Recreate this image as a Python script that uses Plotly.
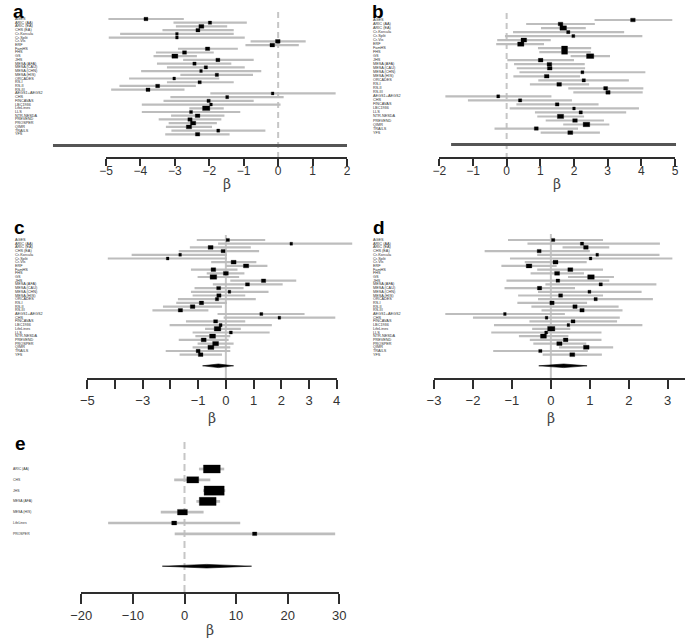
import plotly.graph_objects as go

W, H = 685, 639

# ---------------- data ----------------
studies_a = ["AGES", "ARIC (AA)", "ARIC (EA)", "CHS (EA)", "Cr-Korcula", "Cr-Split", "Cr-Vis", "ERF",
             "FamHS", "FHS", "GS", "JHS", "MESA (AFA)", "MESA (CAU)", "MESA (CHN)", "MESA (HIS)",
             "ORCADES", "RS-I", "RS-II", "RS-III", "AEGS1+AEGS2", "CHS", "FINCAVAS", "LBC1936",
             "LifeLines", "LLS", "NTR-NESDA", "PREVEND", "PROSPER", "QIMR", "TRAILS", "YFS"]
est_a = [-3.84, -1.98, -2.23, -2.33, -2.94, -2.94, -0.01, -0.17, -2.05, -2.72, -3.00, -1.75, -2.43, -2.10,
         -2.24, -1.78, -3.02, -2.28, -3.50, -3.78, -0.16, -1.48, -2.02, -1.95, -2.09, -2.53, -2.34, -2.56,
         -2.47, -2.59, -1.74, -2.34]
lo_a = [-4.93, -3.04, -2.97, -3.36, -4.59, -4.92, -0.80, -0.95, -2.91, -3.55, -3.62, -2.76, -3.52, -3.23,
        -3.98, -2.84, -4.33, -3.23, -4.61, -4.85, -1.97, -3.13, -3.33, -3.96, -2.58, -3.96, -3.11, -3.47,
        -3.18, -3.26, -3.10, -3.28]
hi_a = [-2.74, -0.91, -1.48, -1.29, -1.29, -0.97, 0.80, 0.60, -1.17, -1.87, -2.36, -0.71, -1.36, -0.97,
        -0.49, -0.73, -1.71, -1.29, -2.39, -2.72, 1.67, 0.16, -0.71, 0.07, -1.58, -1.10, -1.56, -1.65,
        -1.78, -1.92, -0.37, -1.41]
wt_a = [1.2, 1.0, 1.5, 1.2, 0.8, 0.8, 1.4, 1.4, 1.3, 1.2, 1.8, 1.2, 1.0, 1.0, 0.8, 1.0, 0.8, 1.0, 1.2, 1.2,
        0.8, 0.9, 1.0, 0.8, 2.2, 0.9, 1.4, 1.3, 1.6, 1.6, 0.9, 1.3]
pooled_a = [-6.54, 2.0]

studies_b = ["AGES", "ARIC (AA)", "ARIC (EA)", "Cr-Korcula", "Cr-Split", "Cr-Vis", "ERF", "FamHS", "FHS",
             "GS", "JHS", "MESA (AFA)", "MESA (CAU)", "MESA (CHN)", "MESA (HIS)", "ORCADES", "RS-I",
             "RS-II", "RS-III", "AEGS1+AEGS2", "CHS", "FINCAVAS", "LBC1936", "LLS", "NTR-NESDA",
             "PREVEND", "QIMR", "TRAILS", "YFS"]
est_b = [3.75, 1.60, 1.68, 1.83, 1.98, 0.51, 0.42, 1.72, 1.72, 2.48, 1.01, 1.27, 1.28, 2.25, 1.19, 2.29,
         1.56, 2.94, 3.01, -0.25, 0.40, 1.50, 2.00, 2.20, 1.60, 2.03, 2.37, 0.88, 1.89]
lo_b = [2.61, 0.58, 1.02, 0.19, -0.05, -0.28, -0.31, 0.93, 0.97, 1.90, 0.02, 0.22, 0.30, 0.38, 0.20, 0.94,
        0.69, 1.83, 1.98, -1.82, -1.15, 0.29, 0.09, 0.84, 0.91, 1.16, 1.68, -0.36, 1.01]
hi_b = [4.92, 2.62, 2.35, 3.49, 4.03, 1.31, 1.11, 2.51, 2.50, 3.07, 2.00, 2.32, 2.33, 4.12, 2.18, 3.63,
        2.45, 4.06, 4.04, 1.33, 1.94, 2.73, 3.93, 3.55, 2.30, 2.89, 3.05, 2.12, 2.77]
wt_b = [1.4, 1.4, 2.0, 1.0, 0.9, 1.7, 1.9, 1.8, 1.8, 2.2, 1.4, 1.4, 1.4, 0.9, 1.4, 1.0, 1.4, 1.2, 1.3, 0.9,
        1.0, 1.1, 0.8, 1.0, 1.9, 1.4, 2.0, 1.2, 1.5]
pooled_b = [-1.65, 5.03]

studies_c = studies_a
est_c = [0.07, 2.36, -0.55, -0.10, -1.65, -2.10, 0.28, 0.73, -0.45, 0.00, -0.45, 1.36, 0.78, -0.26, 0.13,
         -0.25, -0.32, -0.88, -1.20, -1.64, 1.28, 1.93, -0.37, -0.19, -0.30, 0.18, -0.48, -0.80, -0.37,
         -0.54, -1.00, -0.91]
lo_c = [-1.05, -0.28, -1.30, -1.70, -3.40, -4.26, -0.53, -0.01, -1.26, -0.69, -1.02, 0.16, -0.47, -1.13,
        -1.26, -1.20, -1.73, -1.79, -2.27, -2.65, -0.30, -0.08, -1.44, -2.03, -0.75, -1.20, -1.10, -1.70,
        -1.02, -1.20, -2.17, -1.67]
hi_c = [1.42, 4.56, 0.90, 1.20, 0.04, 0.04, 1.10, 1.50, 0.42, 0.67, 0.48, 2.54, 2.05, 0.64, 1.54, 0.70,
        1.08, 0.04, -0.14, -0.63, 2.84, 3.95, 0.70, 1.66, 0.54, 1.58, 0.16, 0.10, 0.28, 0.16, 0.16, -0.14]
wt_c = [1.0, 0.8, 1.5, 1.2, 0.8, 0.8, 1.5, 1.6, 1.4, 1.5, 2.0, 1.3, 1.2, 1.2, 0.8, 1.3, 1.0, 1.3, 1.4, 1.3,
        0.9, 0.8, 1.2, 0.9, 2.0, 0.9, 1.8, 1.5, 1.8, 1.8, 1.2, 1.4]
pooled_c = [-0.84, -0.27, 0.28]

studies_d = studies_a
est_d = [0.06, 0.80, 0.90, -0.30, 1.19, 1.02, 0.12, -0.56, 0.50, 0.16, 1.03, 0.18, 1.28, -0.29, 0.99, 0.25,
         1.15, 0.03, 0.62, 0.80, -1.18, -0.11, 0.57, 0.45, 0.01, -0.12, -0.19, 0.38, 0.22, 0.91, -0.27, 0.55]
lo_d = [-1.10, -0.60, 0.30, -1.70, -0.35, -1.05, -0.67, -1.27, -0.35, -0.52, 0.44, -1.14, -0.14, -1.19,
        -0.33, -0.84, -0.33, -0.86, -0.50, -0.24, -2.71, -2.00, -0.55, -1.46, -0.48, -1.53, -0.82, -0.54,
        -0.45, 0.21, -1.48, -0.21]
hi_d = [1.34, 2.80, 1.50, 1.00, 2.79, 3.12, 0.92, 0.15, 1.34, 0.85, 1.62, 1.50, 2.71, 0.62, 2.33, 1.34,
        2.62, 0.93, 1.74, 1.84, 0.36, 1.77, 1.70, 2.35, 0.50, 1.30, 0.45, 1.30, 0.91, 1.60, 0.95, 1.31]
wt_d = [1.0, 1.0, 1.4, 1.2, 0.8, 0.8, 1.5, 1.7, 1.5, 1.5, 2.0, 1.1, 1.0, 1.3, 0.9, 1.2, 1.0, 1.3, 1.3, 1.3,
        0.8, 0.8, 1.2, 0.8, 2.2, 0.9, 1.8, 1.4, 1.6, 1.7, 1.0, 1.5]
pooled_d = [-0.31, 0.33, 0.93]

studies_e = ["ARIC (AA)", "CHS", "JHS", "MESA (AFA)", "MESA (HIS)", "LifeLines", "PROSPER"]
est_e = [5.3, 1.6, 5.75, 4.5, -0.4, -2.0, 13.6]
lo_e = [2.8, -2.0, 3.6, 2.3, -4.6, -14.8, -1.9]
hi_e = [7.7, 5.0, 7.9, 6.9, 3.7, 10.8, 29.2]
wt_e = [5.1, 3.6, 6.1, 5.1, 3.0, 1.5, 1.3]
pooled_e = [-4.3, 4.3, 13.0]

ticks_a = [-5, -4, -3, -2, -1, 0, 1, 2]
ticks_b = [-2, -1, 0, 1, 2, 3, 4, 5]
ticks_c = [-5, -4, -3, -2, -1, 0, 1, 2, 3, 4]
labels_c = ["\u22125", "", "\u22123", "", "\u22121", "0", "1", "2", "3", "4"]
ticks_d = [-3, -2, -1, 0, 1, 2, 3]
ticks_e = [-20, -10, 0, 10, 20, 30]

# ---------------- layout geometry (pixels) ----------------
panels = [
    dict(letter="a", names=studies_a, est=est_a, lo=lo_a, hi=hi_a, wt=wt_a, pooled=pooled_a,
         ticks=ticks_a, ticktext=None, axis_px=(106, 347), axis_rng=(-5, 2), data_px=(40, 352),
         r1=19, sp=3.72, dom=(0, 163), axis_y=158.3, zero_top=12, dash="6px,4px", ticklen=7,
         tickfont=12, standoff=-6, beta_y=183.5, label_x=14, lab_size=3.8, letter_xy=(12, 0)),
    dict(letter="b", names=studies_b, est=est_b, lo=lo_b, hi=hi_b, wt=wt_b, pooled=pooled_b,
         ticks=ticks_b, ticktext=None, axis_px=(439.3, 675), axis_rng=(-2, 5), data_px=(430, 685),
         r1=20, sp=4.02, dom=(0, 163), axis_y=158.3, zero_top=13, dash="6px,4px", ticklen=7,
         tickfont=12, standoff=-6, beta_y=183.5, label_x=372, lab_size=3.8, letter_xy=(371, 0)),
    dict(letter="c", names=studies_c, est=est_c, lo=lo_c, hi=hi_c, wt=wt_c, pooled=pooled_c,
         ticks=ticks_c, ticktext=labels_c, axis_px=(87.3, 336.7), axis_rng=(-5, 4), data_px=(55, 360),
         r1=240, sp=3.70, dom=(226, 384), axis_y=379.3, zero_top=235, dash="solid", ticklen=9,
         tickfont=13, standoff=0, beta_y=418, label_x=14, lab_size=3.8, letter_xy=(13, 216)),
    dict(letter="d", names=studies_d, est=est_d, lo=lo_d, hi=hi_d, wt=wt_d, pooled=pooled_d,
         ticks=ticks_d, ticktext=None, axis_px=(434, 667.7), axis_rng=(-3, 3), data_px=(400, 685),
         r1=240, sp=3.70, dom=(226, 384), axis_y=379.3, zero_top=234, dash="solid", ticklen=9,
         tickfont=13, standoff=0, beta_y=418, label_x=372, lab_size=3.8, letter_xy=(372, 216)),
    dict(letter="e", names=studies_e, est=est_e, lo=lo_e, hi=hi_e, wt=wt_e, pooled=pooled_e,
         ticks=ticks_e, ticktext=None, axis_px=(81.3, 339.3), axis_rng=(-20, 30), data_px=(55, 345),
         r1=469, sp=10.8, dom=(436, 598), axis_y=593.3, zero_top=442, dash="7px,4px", ticklen=10,
         tickfont=13, standoff=0, beta_y=630, label_x=12, lab_size=3.4, letter_xy=(14, 432)),
]

FONT = "Liberation Sans, Arial, sans-serif"
GREY_CI = "#bdbdbd"
ZERO = "#c6c6c6"
AXIS = "#2e2e2e"


def fx(p):
    return p / W


def fy(p):
    return 1 - p / H


fig = go.Figure()
layout = dict(template="none", width=W, height=H,
              margin=dict(l=0, r=0, t=0, b=0, pad=0, autoexpand=False), showlegend=False,
              paper_bgcolor="white", plot_bgcolor="rgba(0,0,0,0)",
              font=dict(family=FONT, color="#222"))
annotations = []

for i, p in enumerate(panels):
    nd, na, ny = 2 * i + 1, 2 * i + 2, i + 1
    xd = "x" if nd == 1 else f"x{nd}"
    xa = f"x{na}"
    yy = "y" if ny == 1 else f"y{ny}"

    (a0, a1), (v0, v1) = p["axis_px"], p["axis_rng"]
    k = (v1 - v0) / (a1 - a0)          # beta per pixel
    d0, d1 = p["data_px"]
    r1, sp = p["r1"], p["sp"]

    def row(px_y, r1=r1, sp=sp):
        return 1 + (px_y - r1) / sp

    n = len(p["names"])
    rows = list(range(1, n + 1))
    srow = n + 3

    # zero reference line
    fig.add_trace(go.Scatter(x=[0, 0], y=[row(p["zero_top"]), row(p["axis_y"] - 1)], mode="lines",
                             line=dict(color=ZERO, width=2, dash=p["dash"]),
                             xaxis=xd, yaxis=yy, hoverinfo="skip"))

    # confidence intervals
    xs, ys = [], []
    for r, lo, hi in zip(rows, p["lo"], p["hi"]):
        xs += [lo, hi, None]
        ys += [r, r, None]
    ci_w = 2.7 if p["letter"] == "e" else 2.2
    fig.add_trace(go.Scatter(x=xs, y=ys, mode="lines", line=dict(color=GREY_CI, width=ci_w),
                             xaxis=xd, yaxis=yy, hoverinfo="skip"))

    # study boxes sized by weight (filled rectangles in data units)
    bx, by = [], []
    for r, e, w in zip(rows, p["est"], p["wt"]):
        hw = 3.3 * w * k / 2
        hh = (2 + 1.2 * w) / sp / 2
        bx += [e - hw, e + hw, e + hw, e - hw, e - hw, None]
        by += [r - hh, r - hh, r + hh, r + hh, r - hh, None]
    fig.add_trace(go.Scatter(x=bx, y=by, mode="lines", fill="toself", fillcolor="black",
                             line=dict(color="black", width=0.3),
                             xaxis=xd, yaxis=yy, hoverinfo="skip"))

    # pooled estimate
    pl = p["pooled"]
    if len(pl) == 2:
        fig.add_trace(go.Scatter(x=pl, y=[srow, srow], mode="lines",
                                 line=dict(color="#555555", width=3),
                                 xaxis=xd, yaxis=yy, hoverinfo="skip"))
    else:
        h = 1.8 / sp
        fig.add_trace(go.Scatter(x=[pl[0], pl[1], pl[2], pl[1], pl[0]],
                                 y=[srow, srow - h, srow, srow + h, srow], mode="lines",
                                 fill="toself", fillcolor="black", line=dict(color="black", width=0.6),
                                 xaxis=xd, yaxis=yy, hoverinfo="skip"))

    # invisible trace so the display axis is drawn
    fig.add_trace(go.Scatter(x=[v0, v1], y=[1, 1], mode="markers", marker=dict(opacity=0),
                             xaxis=xa, yaxis=yy, hoverinfo="skip"))

    t0, t1 = p["dom"]
    layout["yaxis" + ("" if ny == 1 else str(ny))] = dict(
        domain=[fy(t1), fy(t0)], range=[row(t1), row(t0)], visible=False, anchor=xd,
        automargin=False)
    layout["xaxis" + ("" if nd == 1 else str(nd))] = dict(
        domain=[fx(d0), fx(d1)], range=[v0 + (d0 - a0) * k, v0 + (d1 - a0) * k],
        visible=False, anchor=yy, automargin=False)
    ax_hi = v1 if p["letter"] != "d" else v0 + (685 - a0) * k
    ax_dom1 = a1 if p["letter"] != "d" else 685
    layout[f"xaxis{na}"] = dict(
        domain=[fx(a0), fx(ax_dom1)], range=[v0, ax_hi], anchor="free", position=fy(p["axis_y"]),
        side="bottom", showline=True, linecolor=AXIS, linewidth=2, ticks="outside",
        ticklen=p["ticklen"], tickwidth=2, tickcolor=AXIS, tickmode="array", tickvals=p["ticks"],
        ticktext=p["ticktext"] if p["ticktext"] else [str(t).replace("-", "\u2212") for t in p["ticks"]],
        tickfont=dict(size=p["tickfont"], color="#333", family=FONT), ticklabelstandoff=p["standoff"],
        showgrid=False, zeroline=False, automargin=False)

    # study labels
    for r, name in zip(rows, p["names"]):
        annotations.append(dict(x=fx(p["label_x"]), xref="paper", y=r, yref=yy, text=name,
                                xanchor="left", yanchor="middle", showarrow=False, borderpad=0,
                                font=dict(size=p["lab_size"], color="#333")))
    # beta label
    annotations.append(dict(x=fx((a0 + a1) / 2), xref="paper", y=fy(p["beta_y"]), yref="paper",
                            text="\u03b2", showarrow=False, xanchor="center", yanchor="middle",
                            font=dict(size=14, color="#444", family="DejaVu Serif, serif")))
    # panel letter
    lx, ly = p["letter_xy"]
    annotations.append(dict(x=fx(lx), xref="paper", y=fy(ly), yref="paper", text=f"<b>{p['letter']}</b>",
                            showarrow=False, xanchor="left", yanchor="top", borderpad=0,
                            font=dict(size=19, color="black", family=FONT)))

layout["annotations"] = annotations
fig.update_layout(**layout)
fig.write_html("out.html", config={"displayModeBar": False},
               post_script="document.body.style.margin='0';")
